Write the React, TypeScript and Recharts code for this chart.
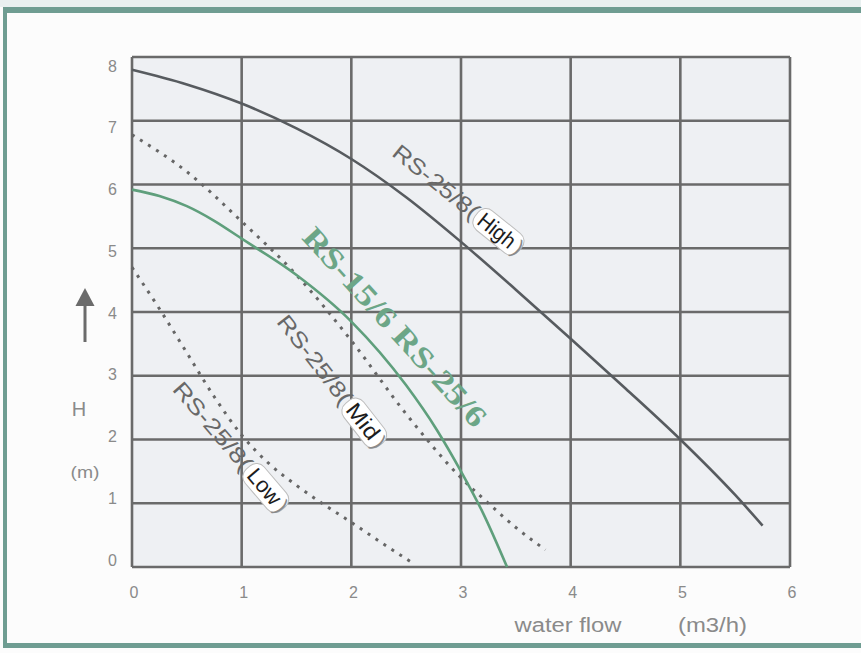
import { LineChart, Line, XAxis, YAxis, CartesianGrid, ReferenceDot } from "recharts";

// axis ticks
const flowTicks = [0, 1, 2, 3, 4, 5, 6];
const headTicks = [0, 1, 2, 3, 4, 5, 6, 7, 8];

// pump curves: flow (m3/h) vs head (m)
const highFlow = [0, 0.5, 1, 1.5, 2, 2.5, 3, 3.5, 4, 4.5, 5, 5.5, 5.75];
const highHead = [7.8, 7.57, 7.27, 6.88, 6.4, 5.8, 5.1, 4.35, 3.58, 2.8, 2.0, 1.13, 0.65];

const greenFlow = [0, 0.25, 0.5, 0.75, 1, 1.5, 2, 2.5, 2.78, 3, 3.2, 3.42];
const greenHead = [5.92, 5.82, 5.66, 5.43, 5.15, 4.58, 3.85, 2.85, 2.15, 1.5, 0.85, 0];

const midFlow = [0, 0.5, 1, 1.5, 2, 2.5, 3, 3.25, 3.5, 3.77];
const midHead = [6.78, 6.2, 5.42, 4.58, 3.55, 2.4, 1.4, 1.0, 0.62, 0.27];

const lowFlow = [0, 0.25, 0.5, 0.75, 1, 1.25, 1.5, 1.75, 2, 2.25, 2.57];
const lowHead = [4.7, 4.05, 3.36, 2.67, 2.07, 1.62, 1.28, 0.98, 0.7, 0.41, 0.05];

// curve labels: anchor in data coords, rotation in degrees
const tagLabels = [
  { prefix: "RS-25/8(", tag: "High", x: 3.0, y: 5.73, angle: 38.8, prefixLen: 104, tagLen: 56 },
  { prefix: "RS-25/8(", tag: "Mid", x: 1.84, y: 2.87, angle: 52, prefixLen: 107, tagLen: 54 },
  { prefix: "RS-25/8(", tag: "Low", x: 0.92, y: 1.84, angle: 49.4, prefixLen: 109, tagLen: 54 },
];
const greenLabel = { text: "RS-15/6 RS-25/6", x: 2.4, y: 3.77, angle: 47.8 };

const SANS = "'Liberation Sans', Arial, sans-serif";
const SERIF = "'Liberation Serif', 'Times New Roman', serif";
const GRID = "#6a6a6a";
const TICK = "#8a8a8a";

const pts = (xs: number[], ys: number[]) => xs.map((x, i) => ({ x, y: ys[i] }));

function XTick({ x, y, payload }: any) {
  return (
    <text x={x + 2} y={y} textAnchor="middle" dominantBaseline="central" fontFamily={SANS} fontSize={16} fill={TICK}>
      {payload.value}
    </text>
  );
}

function YTick({ x, y, payload }: any) {
  // printed numbers sit on a slightly tighter spacing than the grid
  const shift = (payload.value - 4) * 2 + 1;
  return (
    <text x={x} y={y + shift} textAnchor="end" dominantBaseline="central" fontFamily={SANS} fontSize={16} fill={TICK}>
      {payload.value}
    </text>
  );
}

function TagLabel({ cx, cy, angle, prefix, tag, prefixLen, tagLen }: any) {
  const total = prefixLen + tagLen + 8;
  const x0 = -total / 2;
  return (
    <g transform={`translate(${cx},${cy}) rotate(${angle})`}>
      <text x={x0} y={0} dominantBaseline="central" fontFamily={SANS} fontSize={22} fill="#686868" textLength={prefixLen} lengthAdjust="spacingAndGlyphs">
        {prefix}
      </text>
      <rect x={x0 + prefixLen} y={-12.5} width={tagLen} height={25} rx={10} fill="#ffffff" stroke="#bdbdbd" strokeWidth={1} />
      <text x={x0 + prefixLen + tagLen / 2 - 2} y={0} textAnchor="middle" dominantBaseline="central" fontFamily={SANS} fontSize={22} fill="#1c1c1c" textLength={tagLen - 14} lengthAdjust="spacingAndGlyphs">
        {tag}
      </text>
      <text x={x0 + prefixLen + tagLen - 6} y={0} dominantBaseline="central" fontFamily={SANS} fontSize={22} fill="#8a8a8a">
        )
      </text>
    </g>
  );
}

function GreenLabel({ cx, cy }: any) {
  return (
    <text
      transform={`translate(${cx},${cy}) rotate(${greenLabel.angle})`}
      textAnchor="middle"
      dominantBaseline="central"
      fontFamily={SERIF}
      fontWeight="bold"
      fontSize={30}
      fill="#6ca687"
      textLength={258}
      lengthAdjust="spacingAndGlyphs"
    >
      {greenLabel.text}
    </text>
  );
}

export default function App() {
  return (
    <div style={{ position: "absolute", left: 0, top: 0, width: 861, height: 653, overflow: "hidden", background: "#fcfcfc" }}>
      <div style={{ position: "absolute", left: 0, top: 0, width: 861, height: 7, background: "#e9f0f0" }} />
      <div
        style={{
          position: "absolute",
          left: 3,
          top: 7,
          width: 900,
          height: 641,
          borderTop: "6px solid #6f9d92",
          borderLeft: "4px solid #6f9d92",
          borderBottom: "5px solid #6f9d92",
          boxSizing: "border-box",
        }}
      />
      <div style={{ position: "absolute", left: 0, top: 0 }}>
        <LineChart width={861} height={653} margin={{ top: 57, right: 71, bottom: 56, left: 102 }}>
          <CartesianGrid stroke={GRID} strokeWidth={2.6} fill="#eef0f3" fillOpacity={1} />
          <XAxis
            dataKey="x"
            type="number"
            domain={[0, 6]}
            ticks={flowTicks}
            axisLine={false}
            tickLine={false}
            tickSize={0}
            tickMargin={25}
            height={30}
            tick={<XTick />}
            allowDuplicatedCategory={false}
          />
          <YAxis
            dataKey="y"
            type="number"
            domain={[0, 8]}
            ticks={headTicks}
            axisLine={false}
            tickLine={false}
            tickSize={0}
            tickMargin={15}
            width={30}
            tick={<YTick />}
          />
          <Line data={pts(lowFlow, lowHead)} dataKey="y" type="monotone" stroke="#666666" strokeWidth={3} strokeDasharray="3 6.5" dot={false} activeDot={false} isAnimationActive={false} />
          <Line data={pts(midFlow, midHead)} dataKey="y" type="monotone" stroke="#666666" strokeWidth={3} strokeDasharray="3 6.5" dot={false} activeDot={false} isAnimationActive={false} />
          <Line data={pts(greenFlow, greenHead)} dataKey="y" type="monotone" stroke="#5f9f7c" strokeWidth={2.6} dot={false} activeDot={false} isAnimationActive={false} />
          <Line data={pts(highFlow, highHead)} dataKey="y" type="monotone" stroke="#575b5f" strokeWidth={2.6} dot={false} activeDot={false} isAnimationActive={false} />
          {tagLabels.map((l) => (
            <ReferenceDot
              key={l.tag}
              x={l.x}
              y={l.y}
              r={0}
              shape={(p: any) => <TagLabel cx={p.cx} cy={p.cy} {...l} />}
            />
          ))}
          <ReferenceDot x={greenLabel.x} y={greenLabel.y} r={0} shape={(p: any) => <GreenLabel cx={p.cx} cy={p.cy} />} />
        </LineChart>
      </div>
      <svg width={861} height={653} style={{ position: "absolute", left: 0, top: 0, pointerEvents: "none" }}>
        <polygon points="75.5,306 94.5,306 85,288" fill="#6b6b6b" />
        <rect x={83.5} y={304} width={3} height={38} fill="#6b6b6b" />
        <text x={79} y={409} textAnchor="middle" dominantBaseline="central" fontFamily={SANS} fontSize={20} fill="#8a8a8a">
          H
        </text>
        <text x={85} y={472} textAnchor="middle" dominantBaseline="central" fontFamily={SANS} fontSize={16} fill="#8a8a8a" textLength={29} lengthAdjust="spacingAndGlyphs">
          (m)
        </text>
        <text x={568} y={625} textAnchor="middle" dominantBaseline="central" fontFamily={SANS} fontSize={20} fill="#8a8a8a" textLength={107} lengthAdjust="spacingAndGlyphs">
          water flow
        </text>
        <text x={712.5} y={625} textAnchor="middle" dominantBaseline="central" fontFamily={SANS} fontSize={20} fill="#8a8a8a" textLength={69} lengthAdjust="spacingAndGlyphs">
          (m3/h)
        </text>
      </svg>
    </div>
  );
}
